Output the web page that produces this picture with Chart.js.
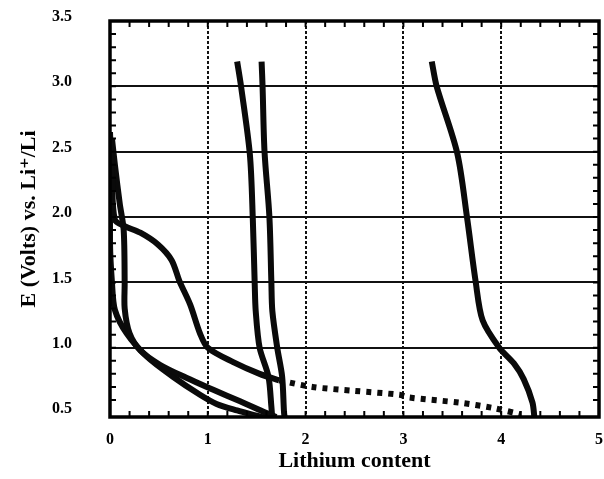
<!DOCTYPE html>
<html>
<head>
<meta charset="utf-8">
<script src="https://cdn.jsdelivr.net/npm/chart.js@4"></script>
<style>
  html, body { margin: 0; padding: 0; background: #fff; }
  #wrap { width: 604px; height: 479px; }
</style>
</head>
<body>
<div id="wrap"><canvas id="chart"></canvas></div>
<script>
// tick labels
const xTicks = [0, 1, 2, 3, 4, 5];
const yTicks = [0.5, 1.0, 1.5, 2.0, 2.5, 3.0, 3.5];

// plateau curve (solid part), then its dotted tail
const plateauX = [0.0, 0.02, 0.05, 0.15, 0.31, 0.49, 0.63, 0.71, 0.82, 0.92, 1.0, 1.26, 1.53, 1.73];
const plateauY = [2.65, 2.3, 1.98, 1.93, 1.88, 1.79, 1.67, 1.51, 1.33, 1.11, 1.0, 0.89, 0.80, 0.75];
const tailX = [1.73, 2.07, 2.5, 2.96, 3.05, 3.57, 3.91, 4.2];
const tailY = [0.75, 0.70, 0.67, 0.64, 0.62, 0.58, 0.54, 0.49];

// two lower-left curves
const outerX = [0.02, 0.05, 0.1, 0.14, 0.15, 0.15, 0.2, 0.31, 0.51, 0.78, 1.05, 1.33, 1.6, 1.7];
const outerY = [2.6, 2.4, 2.1, 1.9, 1.5, 1.3, 1.11, 0.98, 0.87, 0.77, 0.68, 0.59, 0.5, 0.47];
const innerX = [0.0, 0.0, 0.02, 0.05, 0.17, 0.38, 0.64, 0.92, 1.09, 1.3, 1.5, 1.6];
const innerY = [2.5, 1.8, 1.5, 1.29, 1.11, 0.93, 0.78, 0.64, 0.57, 0.52, 0.48, 0.46];

// two near-vertical curves
const steepAX = [1.30, 1.34, 1.43, 1.46, 1.48, 1.49, 1.53, 1.62, 1.65, 1.66];
const steepAY = [3.19, 3.0, 2.48, 1.99, 1.48, 1.28, 1.0, 0.78, 0.55, 0.45];
const steepBX = [1.55, 1.56, 1.58, 1.63, 1.65, 1.66, 1.71, 1.76, 1.78, 1.79];
const steepBY = [3.19, 3.0, 2.5, 2.0, 1.5, 1.28, 1.0, 0.78, 0.5, 0.45];

// right-hand curve
const rightX = [3.29, 3.34, 3.55, 3.65, 3.74, 3.81, 3.98, 4.13, 4.23, 4.32, 4.34];
const rightY = [3.19, 3.0, 2.49, 2.0, 1.5, 1.21, 1.0, 0.88, 0.76, 0.58, 0.46];

function pts(xs, ys) {
  return xs.map((x, i) => ({ x: x, y: ys[i] }));
}

function curve(xs, ys, dash) {
  return {
    data: pts(xs, ys),
    borderColor: "#0a0a0a",
    borderWidth: 6,
    borderDash: dash || [],
    pointRadius: 0,
    tension: 0.3,
    fill: false
  };
}

const serif = "'Liberation Serif', 'DejaVu Serif', serif";

// frame + small inner ticks
const framePlugin = {
  id: "frame",
  afterDraw(chart) {
    const ctx = chart.ctx;
    const a = chart.chartArea;
    const xs = chart.scales.x, ys = chart.scales.y;
    ctx.save();
    ctx.strokeStyle = "#000";
    ctx.lineWidth = 2;
    for (let v = 0.2; v < 5; v += 0.2) {
      const px = xs.getPixelForValue(v);
      ctx.beginPath();
      ctx.moveTo(px, a.bottom); ctx.lineTo(px, a.bottom - 6);
      ctx.moveTo(px, a.top); ctx.lineTo(px, a.top + 6);
      ctx.stroke();
    }
    for (let v = 0.6; v < 3.5; v += 0.1) {
      const py = ys.getPixelForValue(v);
      ctx.beginPath();
      ctx.moveTo(a.left, py); ctx.lineTo(a.left + 6, py);
      ctx.moveTo(a.right, py); ctx.lineTo(a.right - 6, py);
      ctx.stroke();
    }
    ctx.lineWidth = 3.5;
    ctx.strokeRect(a.left, a.top, a.right - a.left, a.bottom - a.top);
    ctx.restore();
  }
};

new Chart(document.getElementById("chart"), {
  type: "line",
  data: {
    datasets: [
      curve(plateauX, plateauY),
      curve(tailX, tailY, [5, 6]),
      curve(outerX, outerY),
      curve(innerX, innerY),
      curve(steepAX, steepAY),
      curve(steepBX, steepBY),
      curve(rightX, rightY)
    ]
  },
  options: {
    responsive: true,
    maintainAspectRatio: false,
    animation: false,
    layout: { padding: { top: 21, right: 5, left: 0, bottom: 0 } },
    plugins: { legend: { display: false }, tooltip: { enabled: false } },
    scales: {
      x: {
        type: "linear",
        min: 0,
        max: 5,
        afterBuildTicks: s => { s.ticks = xTicks.map(v => ({ value: v })); },
        afterFit: s => { s.height = 62; s.paddingLeft = 0; s.paddingRight = 0; },
        grid: { color: "#111", lineWidth: 2, drawTicks: false },
        border: { display: false, dash: [3, 2] },
        ticks: { color: "#000", padding: 13, font: { family: serif, size: 16, weight: "bold" } },
        title: {
          display: true,
          text: "Lithium content",
          color: "#000",
          padding: { top: 1 },
          font: { family: serif, size: 22, weight: "bold" }
        }
      },
      y: {
        type: "linear",
        min: 0.47,
        max: 3.5,
        afterBuildTicks: s => { s.ticks = yTicks.map(v => ({ value: v })); },
        afterFit: s => { s.width = 110; s.paddingTop = 0; s.paddingBottom = 0; },
        grid: {
          color: c => (c.tick && c.tick.value === 0.5 ? "rgba(0,0,0,0)" : "#111"),
          lineWidth: 2,
          drawTicks: false
        },
        border: { display: false },
        ticks: {
          color: "#000",
          padding: 38,
          labelOffset: -4,
          callback: v => v.toFixed(1),
          font: { family: serif, size: 16, weight: "bold" }
        },
        title: {
          display: true,
          text: "E (Volts) vs. Li\u207A/Li",
          color: "#000",
          padding: { top: 16, bottom: 0 },
          font: { family: serif, size: 22, weight: "bold" }
        }
      }
    }
  },
  plugins: [framePlugin]
});
</script>
</body>
</html>
